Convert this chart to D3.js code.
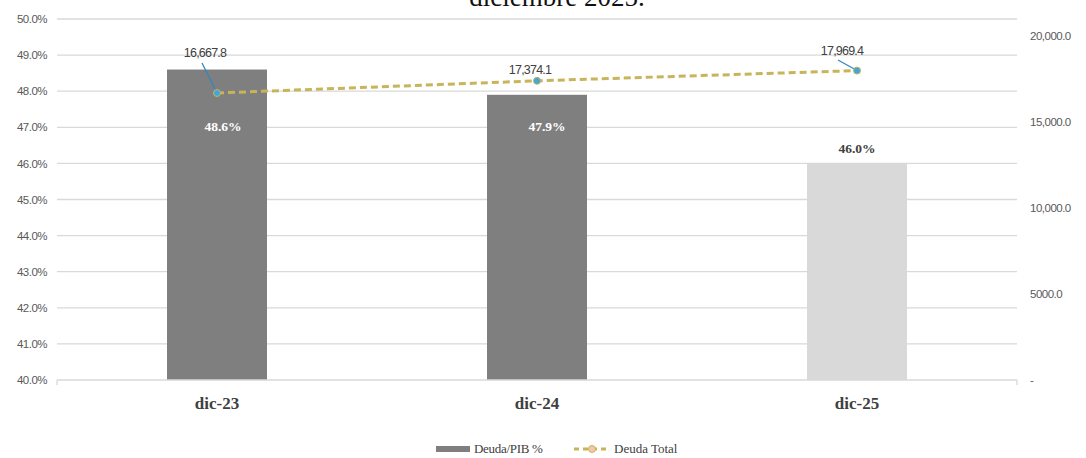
<!DOCTYPE html>
<html><head><meta charset="utf-8">
<script src="https://cdn.jsdelivr.net/npm/d3@7"></script>
<style>body{margin:0;background:#fff}svg{display:block}</style>
</head><body><svg id="c" width="1086" height="458"></svg>
<script>
const categories = ["dic-23","dic-24","dic-25"];
const ratioPIB = [48.6, 47.9, 46.0];
const deudaTotal = [16667.8, 17374.1, 17969.4];
const leftTicks = [40,41,42,43,44,45,46,47,48,49,50];
const rightTicks = [0,5000,10000,15000,20000];
const barColors = ["#7f7f7f","#7f7f7f","#d9d9d9"];
const titleText = "diciembre 2025.";

const svg = d3.select("#c");
const L = 57, R = 1017, T = 19, B = 380;
const x = d3.scaleBand().domain(categories).range([L,R]).paddingInner(0).paddingOuter(0);
const y = d3.scaleLinear().domain([40,50]).range([B,T]);
const y2 = d3.scaleLinear().domain([0,20965]).range([B,T]);
const serif = "'Liberation Serif','DejaVu Serif',serif";
const sans = "'Liberation Sans Narrow','Liberation Sans',sans-serif";

svg.append("text").attr("x",557).attr("y",6).attr("text-anchor","middle")
  .attr("font-family",serif).attr("font-size",27).attr("fill","#111").text(titleText);

// gridlines
svg.append("g").selectAll("line").data(leftTicks.slice(1)).join("line")
  .attr("x1",L).attr("x2",R).attr("y1",d=>y(d)).attr("y2",d=>y(d))
  .attr("stroke","#d9d9d9").attr("stroke-width",1.3);

// left axis labels
const ax = svg.append("g").attr("transform",`translate(${L},0)`)
  .call(d3.axisLeft(y).tickValues(leftTicks).tickSize(0).tickPadding(10).tickFormat(d=>d.toFixed(1)+"%"));
ax.select(".domain").remove();
ax.selectAll("text").attr("font-family",sans).attr("font-size",11.5).attr("fill","#595959").attr("letter-spacing","-0.5px");

// right axis labels
const ax2 = svg.append("g").attr("transform",`translate(${R},0)`)
  .call(d3.axisRight(y2).tickValues(rightTicks).tickSize(0).tickPadding(13)
    .tickFormat(d=> d===0 ? "-" : (d>=10000? d3.format(",.1f")(d) : d.toFixed(1))));
ax2.select(".domain").remove();
ax2.selectAll("text").attr("font-family",sans).attr("font-size",11.5).attr("fill","#595959").attr("letter-spacing","-0.5px");

// bars
const bw = 100;
svg.append("g").selectAll("rect").data(categories).join("rect")
  .attr("x",(d)=>x(d)+x.bandwidth()/2-bw/2).attr("width",bw)
  .attr("y",(d,i)=>y(ratioPIB[i])).attr("height",(d,i)=>B-y(ratioPIB[i]))
  .attr("fill",(d,i)=>barColors[i]);

// x axis line
svg.append("line").attr("x1",L).attr("x2",R).attr("y1",B).attr("y2",B).attr("stroke","#d9d9d9").attr("stroke-width",1.3);
svg.append("g").selectAll("line").data([L,R]).join("line")
  .attr("x1",d=>d).attr("x2",d=>d).attr("y1",B).attr("y2",B+5).attr("stroke","#d9d9d9").attr("stroke-width",1.3);

// category labels
svg.append("g").selectAll("text").data(categories).join("text")
  .attr("x",d=>x(d)+x.bandwidth()/2).attr("y",409).attr("text-anchor","middle")
  .attr("font-family",serif).attr("font-size",17).attr("font-weight","bold").attr("fill","#404040").text(d=>d);

// bar labels
const barLabelPos = [{dx:6,y:131,fill:"#fff"},{dx:10,y:131,fill:"#fff"},{dx:0,y:153,fill:"#404040"}];
svg.append("g").selectAll("text").data(categories).join("text")
  .attr("x",(d,i)=>x(d)+x.bandwidth()/2+barLabelPos[i].dx).attr("y",(d,i)=>barLabelPos[i].y)
  .attr("text-anchor","middle").attr("font-family",serif).attr("font-size",13.5).attr("font-weight","bold")
  .attr("fill",(d,i)=>barLabelPos[i].fill).text((d,i)=>ratioPIB[i].toFixed(1)+"%");

// line
const line = d3.line().x((d,i)=>x(categories[i])+x.bandwidth()/2).y(d=>y2(d));
svg.append("path").datum(deudaTotal).attr("d",line).attr("fill","none")
  .attr("stroke","#c8b45a").attr("stroke-width",3).attr("stroke-dasharray","7,4");

// leader lines + labels
const lab = [{dx:-12,y:57,lx:-15,ly:63},{dx:-7,y:74,lx:null},{dx:-15,y:55,lx:-19,ly:60}];
deudaTotal.forEach((v,i)=>{
  const cx = x(categories[i])+x.bandwidth()/2, cy = y2(v);
  if(lab[i].lx!==null){
    svg.append("line").attr("x1",cx+lab[i].lx).attr("y1",lab[i].ly).attr("x2",cx).attr("y2",cy)
      .attr("stroke","#2e86c1").attr("stroke-width",1.2);
  }
  svg.append("text").attr("x",cx+lab[i].dx).attr("y",lab[i].y).attr("text-anchor","middle")
    .attr("font-family",sans).attr("font-size",12.5).attr("fill","#404040").attr("letter-spacing","-0.8px")
    .text(d3.format(",.1f")(v));
});
svg.append("g").selectAll("circle").data(deudaTotal).join("circle")
  .attr("cx",(d,i)=>x(categories[i])+x.bandwidth()/2).attr("cy",d=>y2(d)).attr("r",3.5)
  .attr("fill","#3fa7dc").attr("stroke","#c8b45a").attr("stroke-width",1);

// legend
const lg = svg.append("g");
lg.append("rect").attr("x",436).attr("y",446).attr("width",34).attr("height",6).attr("fill","#7f7f7f");
lg.append("text").attr("x",474).attr("y",453).attr("font-family",serif).attr("font-size",13).attr("fill","#404040").attr("letter-spacing","-0.3px").text("Deuda/PIB %");
lg.append("line").attr("x1",574).attr("x2",610).attr("y1",449).attr("y2",449).attr("stroke","#c8b45a").attr("stroke-width",3).attr("stroke-dasharray","5,4");
lg.append("circle").attr("cx",592).attr("cy",449).attr("r",3.5).attr("fill","#f2c9a8").attr("stroke","#c8b45a").attr("stroke-width",1);
lg.append("text").attr("x",614).attr("y",453).attr("font-family",serif).attr("font-size",13).attr("fill","#404040").attr("letter-spacing","0px").text("Deuda Total");
</script></body></html>
